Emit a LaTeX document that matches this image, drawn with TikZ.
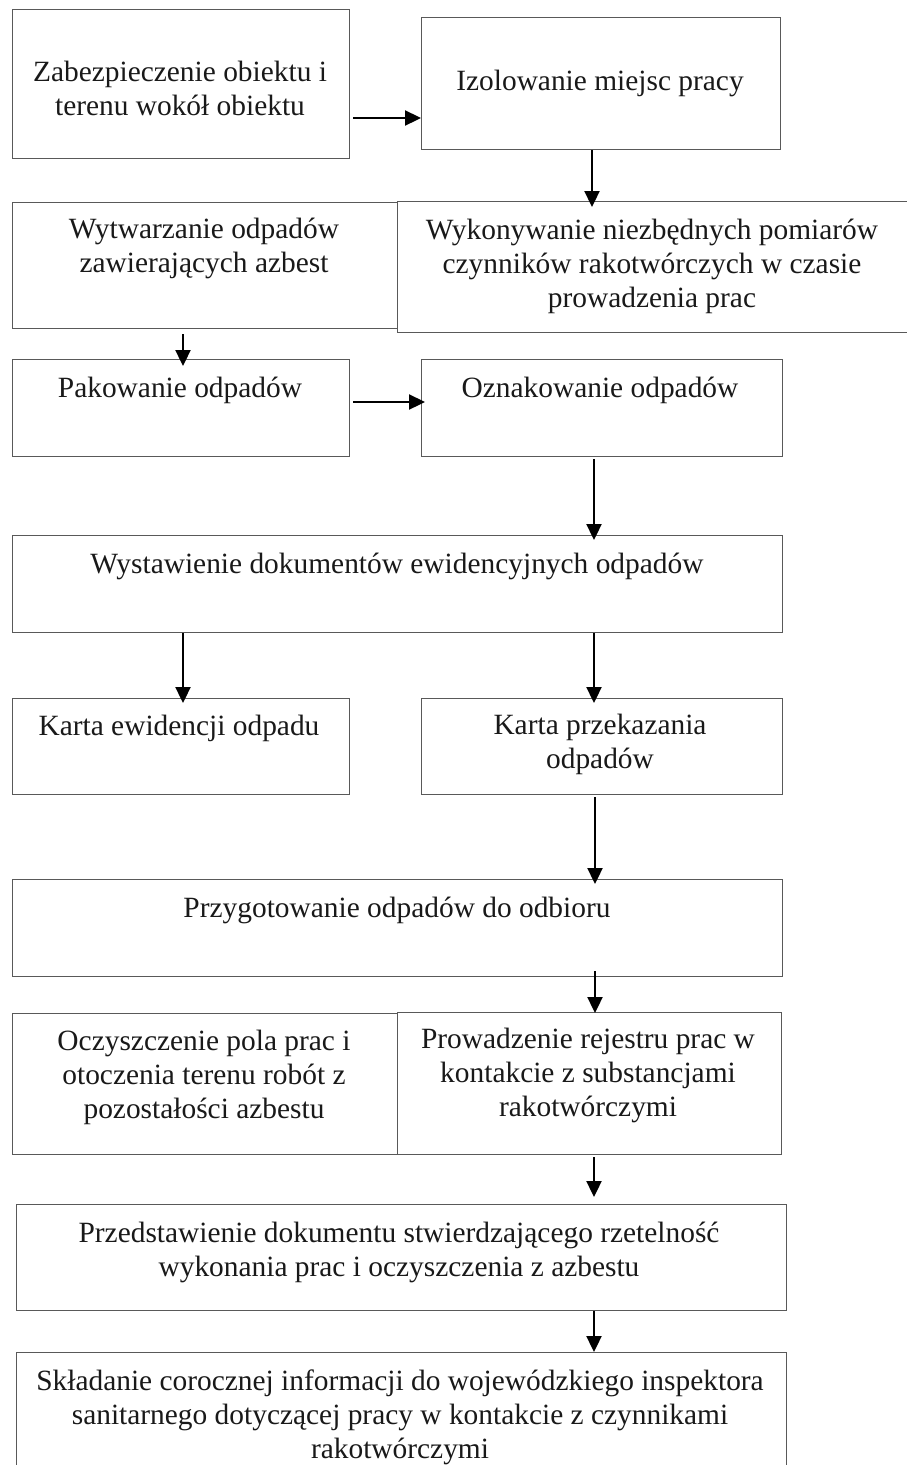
\documentclass[tikz,border=0pt]{standalone}
\usepackage{fontspec}
\setmainfont{Liberation Serif}
\usetikzlibrary{arrows.meta}
\begin{document}
\begin{tikzpicture}[x=1pt,y=-1pt,
  box/.style={draw=black!65, line width=1pt, rectangle, inner sep=0pt, anchor=north west},
  txt/.style={inner sep=0pt, anchor=base, align=center, text=black!90, font=\fontsize{29.4}{34}\selectfont},
  arr/.style={line width=2.3pt, draw=black, -{Triangle[length=16pt,width=15pt]}}]
\useasboundingbox (0,0) rectangle (906,1465);
\fill[white] (0,0) rectangle (906,1465);
% boxes
\node[box, minimum width=337pt, minimum height=149pt] (b1) at (12,9) {};
\node[box, minimum width=359pt, minimum height=132pt] (b2) at (421,17) {};
\node[box, minimum width=385pt, minimum height=126pt] (b3) at (12,202) {};
\node[box, minimum width=513pt, minimum height=131pt] (b4) at (397,201) {};
\node[box, minimum width=337pt, minimum height=97pt] (b5) at (12,359) {};
\node[box, minimum width=361pt, minimum height=97pt] (b6) at (421,359) {};
\node[box, minimum width=770pt, minimum height=97pt] (b7) at (12,535) {};
\node[box, minimum width=337pt, minimum height=96pt] (b8) at (12,698) {};
\node[box, minimum width=361pt, minimum height=96pt] (b9) at (421,698) {};
\node[box, minimum width=770pt, minimum height=97pt] (b10) at (12,879) {};
\node[box, minimum width=385pt, minimum height=141pt] (b11) at (12,1013) {};
\node[box, minimum width=384pt, minimum height=142pt] (b12) at (397,1012) {};
\node[box, minimum width=770pt, minimum height=106pt] (b13) at (16,1204) {};
\node[box, minimum width=770pt, minimum height=130pt] (b14) at (16,1352) {};
% texts (anchored at the baseline of their last line)
\node[txt] (t1) at (180,115) {Zabezpieczenie obiektu i\\terenu wokół obiektu};
\node[txt] (t2) at (600,90) {Izolowanie miejsc pracy};
\node[txt] (t3) at (204,272) {Wytwarzanie odpadów\\zawierających azbest};
\node[txt] (t4) at (652,307) {Wykonywanie niezbędnych pomiarów\\czynników rakotwórczych w czasie\\prowadzenia prac};
\node[txt] (t5) at (180,397) {Pakowanie odpadów};
\node[txt] (t6) at (600,397) {Oznakowanie odpadów};
\node[txt] (t7) at (397,573) {Wystawienie dokumentów ewidencyjnych odpadów};
\node[txt] (t8) at (179,735) {Karta ewidencji odpadu};
\node[txt] (t9) at (600,768) {Karta przekazania\\odpadów};
\node[txt] (t10) at (397,917) {Przygotowanie odpadów do odbioru};
\node[txt] (t11) at (204,1118) {Oczyszczenie pola prac i\\otoczenia terenu robót z\\pozostałości azbestu};
\node[txt] (t12) at (588,1116) {Prowadzenie rejestru prac w\\kontakcie z substancjami\\rakotwórczymi};
\node[txt] (t13) at (399,1276) {Przedstawienie dokumentu stwierdzającego rzetelność\\wykonania prac i oczyszczenia z azbestu};
\node[txt] (t14) at (400,1458) {Składanie corocznej informacji do wojewódzkiego inspektora\\sanitarnego dotyczącej pracy w kontakcie z czynnikami\\rakotwórczymi};
% column guides
\coordinate (cR) at (594,0);
\coordinate (cL) at (183,0);
\coordinate (r1) at (0,118);
\coordinate (r2) at (0,402);
% arrows
\draw[arr] ([xshift=3pt]b1.east |- r1) -- (b2.west |- r1);
\draw[arr] ([xshift=-2pt]b2.south -| cR) -- ([yshift=-6pt,xshift=-2pt]b4.north -| cR);
\draw[arr] ([yshift=-5pt]b3.south -| cL) -- ([yshift=-7pt]b5.north -| cL);
\draw[arr] ([xshift=3pt]b5.east |- r2) -- ([xshift=4pt]b6.west |- r2);
\draw[arr] ([yshift=-2pt]b6.south -| cR) -- ([yshift=-5pt]b7.north -| cR);
\draw[arr] (b7.south -| cL) -- ([yshift=-5pt]b8.north -| cL);
\draw[arr] (b7.south -| cR) -- ([yshift=-5pt]b8.north -| cR);
\draw[arr] ([yshift=-2pt,xshift=1pt]b9.south -| cR) -- ([yshift=-5pt,xshift=1pt]b10.north -| cR);
\draw[arr] ([yshift=6pt,xshift=1pt]b10.south -| cR) -- ([yshift=-1pt,xshift=1pt]b12.north -| cR);
\draw[arr] ([yshift=-2pt]b12.south -| cR) -- ([yshift=7pt]b13.north -| cR);
\draw[arr] (b13.south -| cR) -- (b14.north -| cR);
\end{tikzpicture}
\end{document}
